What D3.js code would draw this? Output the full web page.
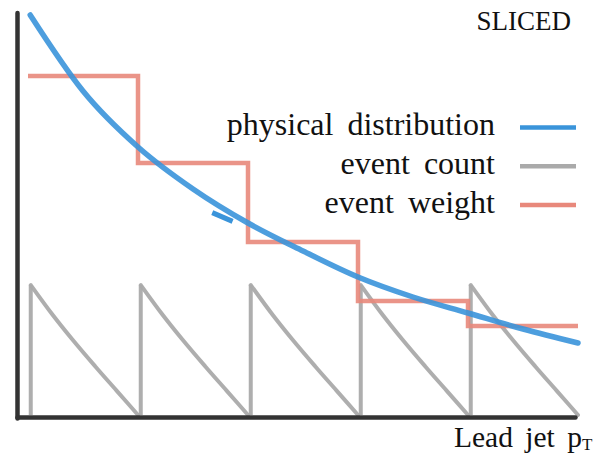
<!doctype html>
<html>
<head>
<meta charset="utf-8">
<title>SLICED</title>
<style>
  body { margin: 0; background: #fff; }
  text { font-family: "Liberation Serif", "DejaVu Serif", serif; fill: #111; }
</style>
</head>
<body>
<div id="chart"></div>
<script src="https://cdn.jsdelivr.net/npm/d3@7"></script>
<script>
// bins along lead jet pT
var binEdges = [0, 1, 2, 3, 4, 5];
// physical distribution (blue)
var physX = [0.02, 0.5, 1, 1.5, 2, 2.5, 3, 3.5, 4, 4.5, 5];
var physY = [100, 81, 67, 56.5, 48, 41, 34.5, 29.5, 25.5, 21.5, 18];
// event weight per bin (red step)
var weightVals = [84.75, 63, 43.25, 28.5, 22.25];
// event count inside one bin (gray saw tooth), t = position in bin
var countT = [0, 0.2, 0.4, 0.6, 0.8, 1];
var countH = [32.5, 25.2, 18.5, 12.2, 6.1, 0];
var legendLabels = ["physical distribution", "event count", "event weight"];
var colors = ["#3a94da", "#aaaaaa", "#e8887b"];

var width = 600, height = 453;
var svg = d3.select("#chart").append("svg")
  .attr("width", width).attr("height", height);

var x = d3.scaleLinear().domain([0, 5]).range([28, 578]);
var y = d3.scaleLinear().domain([0, 100]).range([415, 15]);

// gray saw tooth
var countCurve = d3.line()
  .x(function(d) { return x(d[0]); })
  .y(function(d) { return y(d[1]); })
  .curve(d3.curveMonotoneX);
binEdges.slice(0, -1).forEach(function(b) {
  var start = b + 0.025;
  svg.append("path")
    .attr("d", d3.line()([[x(start), y(0)], [x(start), y(countH[0])]]))
    .attr("stroke", colors[1]).attr("stroke-width", 4)
    .attr("fill", "none").attr("opacity", 0.95);
  var pts = countT.map(function(t, i) { return [start + t * (b + 1 - start), countH[i]]; });
  svg.append("path")
    .attr("d", countCurve(pts))
    .attr("stroke", colors[1]).attr("stroke-width", 4)
    .attr("stroke-linecap", "round")
    .attr("fill", "none").attr("opacity", 0.95);
});

// red step
var stepData = weightVals.map(function(v, i) { return [binEdges[i], v]; });
stepData.push([binEdges[binEdges.length - 1], weightVals[weightVals.length - 1]]);
svg.append("path")
  .attr("d", d3.line()
    .x(function(d) { return x(d[0]); })
    .y(function(d) { return y(d[1]); })
    .curve(d3.curveStepAfter)(stepData))
  .attr("stroke", colors[2]).attr("stroke-width", 4.5)
  .attr("fill", "none").attr("opacity", 0.9);

// blue curve
var physData = physX.map(function(v, i) { return [v, physY[i]]; });
svg.append("path")
  .attr("d", d3.line()
    .x(function(d) { return x(d[0]); })
    .y(function(d) { return y(d[1]); })
    .curve(d3.curveMonotoneX)(physData))
  .attr("stroke", colors[0]).attr("stroke-width", 5.5)
  .attr("stroke-linecap", "round")
  .attr("fill", "none").attr("opacity", 0.9);

// small stray blue stroke
svg.append("path")
  .attr("d", d3.line()([[x(1.675), y(50.6)], [x(1.86), y(48.4)]]))
  .attr("stroke", colors[0]).attr("stroke-width", 5)
  .attr("fill", "none");

// axes
var x0 = x.range()[0] - 10.5, yb = y.range()[0] + 2.5;
svg.append("line")
  .attr("x1", x0).attr("x2", x0)
  .attr("y1", y.range()[1] - 2).attr("y2", yb + 1)
  .attr("stroke", "#333").attr("stroke-width", 4.5).attr("stroke-linecap", "round");
svg.append("line")
  .attr("x1", x0).attr("x2", x.range()[1] - 2.5)
  .attr("y1", yb).attr("y2", yb)
  .attr("stroke", "#333").attr("stroke-width", 4.5).attr("stroke-linecap", "round");

// legend
var lg = svg.append("g");
legendLabels.forEach(function(l, i) {
  var ly = 127.5 + i * 38.8;
  lg.append("text")
    .attr("x", 495).attr("y", ly + 7.5)
    .attr("text-anchor", "end")
    .attr("font-size", 32)
    .attr("word-spacing", 6)
    .text(l);
  lg.append("line")
    .attr("x1", 520).attr("x2", 576)
    .attr("y1", ly).attr("y2", ly)
    .attr("stroke", colors[i]).attr("stroke-width", 4.5);
});

svg.append("text")
  .attr("x", 571).attr("y", 30)
  .attr("text-anchor", "end")
  .attr("font-size", 27)
  .text("SLICED");

var xl = svg.append("text")
  .attr("x", 454).attr("y", 447)
  .attr("font-size", 29.5)
  .attr("word-spacing", 5);
xl.append("tspan").text("Lead jet p");
xl.append("tspan").attr("font-size", 17).attr("dy", 3).text("T");
</script>
</body>
</html>
